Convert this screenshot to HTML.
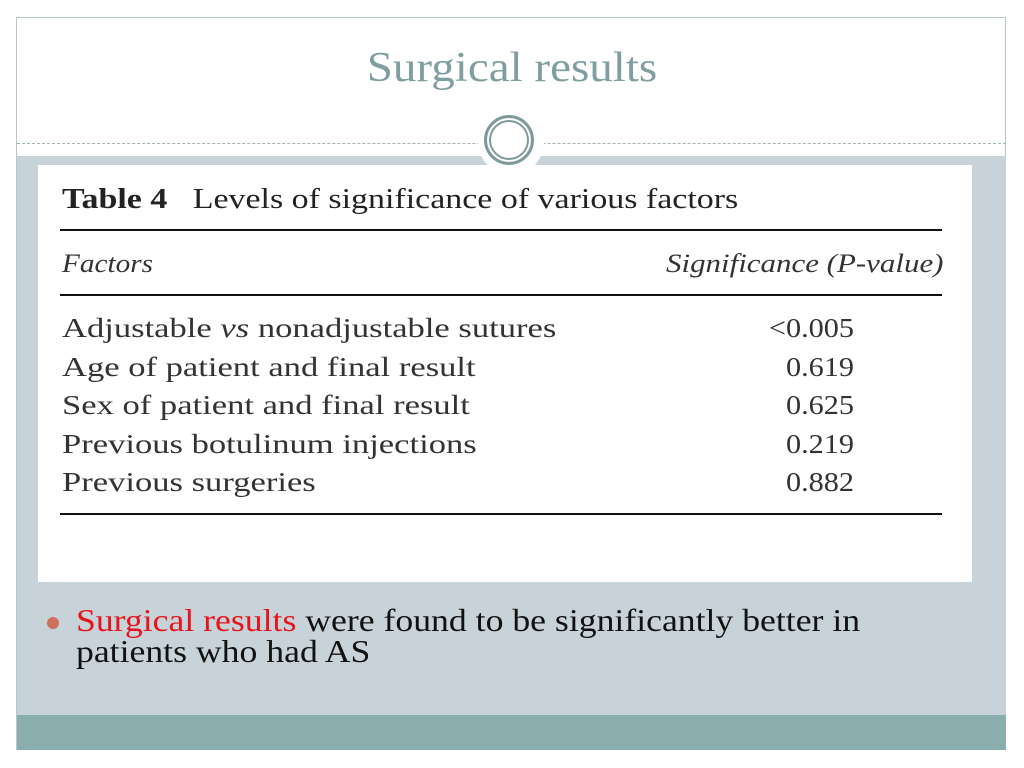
<!DOCTYPE html>
<html><head><meta charset="utf-8"><style>
body{margin:0;width:1024px;height:768px;background:#fff;position:relative;overflow:hidden;font-family:"Liberation Serif",serif}
.a{position:absolute}
.sx{transform-origin:0 0;white-space:nowrap}
</style></head><body>
<div class="a" style="left:16px;top:17px;width:990px;height:733px;border:1px solid #b8c6cc;box-sizing:border-box"></div>
<div class="a" style="left:17px;top:156px;width:989px;height:560px;background:#c8d3d9"></div>
<div class="a" style="left:17px;top:143px;width:989px;border-top:1px dashed #9fb3b8"></div>
<div class="a" style="left:17px;top:715px;width:989px;height:35px;background:#8aaeae"></div>
<div class="a" style="left:478px;top:109px;width:66px;height:66px;border-radius:50%;background:#fff"></div>
<div class="a" style="left:484px;top:115px;width:50px;height:50px;border-radius:50%;border:3px solid #7f9a9c;box-sizing:border-box;box-shadow:inset 0 0 0 2px #fff,inset 0 0 0 4px #7f9a9c"></div>
<div class="a" style="left:0;top:44px;width:1024px;text-align:center;font-size:42px;color:#7f9ea0;transform:scaleX(1.12);transform-origin:512px 0">Surgical results</div>
<div class="a" style="left:38px;top:165px;width:934px;height:417px;background:#fff">
 <div class="a sx" style="left:24px;top:18px;font-size:29px;color:#222;transform:scaleX(1.17)"><b>Table 4</b>&nbsp;&nbsp; Levels of significance of various factors</div>
 <div class="a" style="left:22px;top:64px;width:882px;border-top:2px solid #111"></div>
 <div class="a sx" style="left:24px;top:84px;font-size:26px;font-style:italic;color:#333;transform:scaleX(1.125)">Factors</div>
 <div class="a sx" style="left:628px;top:84px;font-size:26px;font-style:italic;color:#333;transform:scaleX(1.19)">Significance (P-value)</div>
 <div class="a" style="left:22px;top:129px;width:882px;border-top:2px solid #111"></div>
 <div class="a sx" style="left:24px;top:144px;font-size:27px;line-height:38.5px;color:#333;transform:scaleX(1.28)">Adjustable <i>vs</i> nonadjustable sutures<br>Age of patient and final result<br>Sex of patient and final result<br>Previous botulinum injections<br>Previous surgeries</div>
 <div class="a" style="left:680px;width:136px;top:144px;font-size:27px;line-height:38.5px;color:#333;text-align:right;transform:scaleX(1.12);transform-origin:100% 0">&lt;0.005<br>0.619<br>0.625<br>0.219<br>0.882</div>
 <div class="a" style="left:22px;top:348px;width:882px;border-top:2px solid #111"></div>
</div>
<div class="a" style="left:47px;top:617px;width:12px;height:12px;border-radius:50%;background:#d0705a"></div>
<div class="a sx" style="left:76px;top:605px;font-size:32px;line-height:31px;color:#111;transform:scaleX(1.115)"><span style="color:#e8141b">Surgical results</span> were found to be significantly better in<br>patients who had AS</div>
</body></html>
